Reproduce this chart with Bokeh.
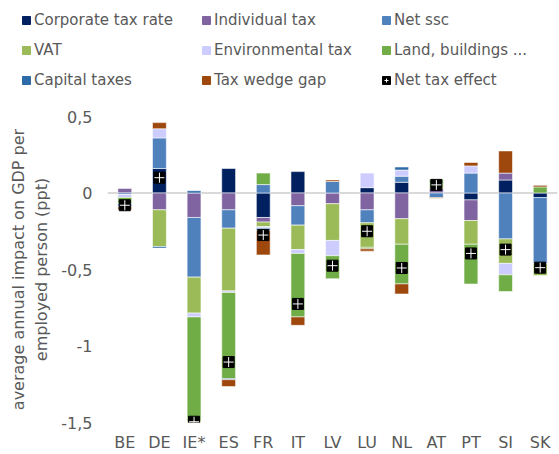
from bokeh.plotting import figure
from bokeh.layouts import column
from bokeh.models import ColumnDataSource, Legend, LegendItem, Span, FixedTicker, Range1d, FactorRange
from bokeh.embed import file_html
from bokeh.resources import INLINE

countries = ["BE", "DE", "IE*", "ES", "FR", "IT", "LV", "LU", "NL", "AT", "PT", "SI", "SK"]

corporate = [0, 0.16, 0, 0.16, -0.16, 0.14, 0, 0.035, 0.07, 0, -0.045, 0.085, -0.03]
individual = [0.03, -0.11, -0.16, -0.11, -0.03, -0.083, -0.07, -0.11, -0.168, 0.03, -0.135, 0.045, 0]
net_ssc = [-0.01, 0.20, -0.39, -0.12, 0.055, -0.127, 0.075, -0.085, 0.04, -0.03, 0.13, -0.30, -0.43]
vat = [0, -0.24, -0.235, -0.41, -0.03, -0.16, -0.24, -0.16, -0.167, 0.03, -0.155, -0.16, -0.08]
environmental = [-0.02, 0.06, -0.025, -0.01, -0.01, -0.025, -0.10, 0.095, 0.04, 0, 0.047, -0.075, 0]
land = [-0.04, 0, -0.685, -0.563, 0.075, -0.415, -0.15, -0.01, -0.259, 0.03, -0.26, -0.109, 0.04]
capital = [-0.02, -0.01, 0.015, -0.007, -0.015, 0, 0, 0, 0.02, 0, 0, 0, 0]
wedge_gap = [-0.02, 0.04, -0.015, -0.045, -0.16, -0.055, 0.01, -0.015, -0.066, -0.005, 0.023, 0.145, 0.01]
net_effect = [-0.08, 0.10, -1.495, -1.105, -0.275, -0.725, -0.475, -0.25, -0.49, 0.053, -0.395, -0.37, -0.488]

series_names = ["Corporate tax rate", "Individual tax", "Net ssc", "VAT", "Environmental tax",
                "Land, buildings ...", "Capital taxes", "Tax wedge gap"]
series_values = [corporate, individual, net_ssc, vat, environmental, land, capital, wedge_gap]
series_colors = ["#002060", "#8064A2", "#4F81BD", "#9BBB59", "#CCCCFF", "#70AD47", "#2C6AA8", "#9E480E"]
net_name = "Net tax effect"

y_ticks = [-1.5, -1, -0.5, 0, 0.5]
y_tick_labels = ["-1,5", "-1", "-0,5", "0", "0,5"]
y_title = "average annual impact on GDP per\nemployed person (ppt)"

W = 559
LEG_H = 104
MAIN_H = 350

# ---------------- main chart ----------------
p = figure(x_range=FactorRange(factors=countries, range_padding=0),
           y_range=Range1d(y_ticks[0], y_ticks[-1]),
           width=W, height=MAIN_H, output_backend="svg", toolbar_location=None,
           min_border_left=107, min_border_right=2, min_border_top=12, min_border_bottom=28)
p.frame_align = False

p.add_layout(Span(location=0, dimension="width", line_color="#D9D9D9", line_width=2, level="underlay"))

# ---------------- legend strip ----------------
lg = figure(width=W, height=LEG_H, output_backend="svg", toolbar_location=None,
            x_range=FactorRange(factors=countries), y_range=Range1d(10, 11),
            x_axis_type=None, y_axis_type=None, min_border=0)
lg.frame_align = False
lg.grid.visible = False
lg.outline_line_color = None

n = len(countries)
pos_base = [0.0] * n
neg_base = [0.0] * n
items = []
for name, vals, col in zip(series_names, series_values, series_colors):
    xs, bots, tops = [], [], []
    for i, v in enumerate(vals):
        if v == 0:
            continue
        if v > 0:
            b, t = pos_base[i], pos_base[i] + v
            pos_base[i] = t
        else:
            t, b = neg_base[i], neg_base[i] + v
            neg_base[i] = b
        xs.append(countries[i]); bots.append(b); tops.append(t)
    src = ColumnDataSource(dict(x=xs, bottom=bots, top=tops))
    p.vbar(x="x", bottom="bottom", top="top", width=0.4, source=src, fill_color=col,
           line_color="white", line_width=0.8, line_alpha=0.7)
    # swatch renderer for the legend strip (its bars fall outside that strip's view)
    r = lg.vbar(x="x", bottom="bottom", top="top", width=0.4, source=src, fill_color=col, line_color=col)
    items.append(LegendItem(label=name, renderers=[r]))

nsrc = ColumnDataSource(dict(x=countries, y=net_effect))
p.scatter(x="x", y="y", source=nsrc, marker="square", size=11, fill_color="black", line_color="black")
p.scatter(x="x", y="y", source=nsrc, marker="cross", size=10, line_color="white", line_width=1)
sq = lg.vbar(x="x", top="y", width=0.4, source=nsrc, fill_color="black", line_color="black")
cr = lg.scatter(x="x", y="y", source=nsrc, marker="cross", size=9, line_color="white", line_width=1)
items.append(LegendItem(label=net_name, renderers=[sq, cr]))

legend = Legend(items=items, ncols=3, orientation="horizontal", location=(21, 14),
                label_text_font="DejaVu Sans", label_text_font_size="15px", label_text_color="#595959",
                glyph_width=10, glyph_height=10, label_standoff=3, label_height=20, label_width=157,
                spacing=10, padding=0, margin=0, border_line_color=None, background_fill_alpha=0)
lg.add_layout(legend, "center")

p.xgrid.visible = False
p.ygrid.visible = False
p.outline_line_color = None

for ax in (p.xaxis, p.yaxis):
    ax.axis_line_color = None
    ax.major_tick_line_color = None
    ax.minor_tick_line_color = None
    ax.major_tick_out = 0
    ax.major_tick_in = 0
    ax.minor_tick_out = 0
    ax.major_label_text_font = "DejaVu Sans"
    ax.major_label_text_font_size = "16px"
    ax.major_label_text_color = "#595959"

p.xaxis.major_label_standoff = 10
p.yaxis.major_label_standoff = 15
p.yaxis.ticker = FixedTicker(ticks=y_ticks)
p.yaxis.major_label_overrides = {t: l for t, l in zip(y_ticks, y_tick_labels)}
p.yaxis.axis_label = y_title
p.yaxis.axis_label_text_font = "DejaVu Sans"
p.yaxis.axis_label_text_font_size = "16px"
p.yaxis.axis_label_text_font_style = "normal"
p.yaxis.axis_label_text_color = "#595959"
p.yaxis.axis_label_standoff = 7

open("out.html", "w").write(file_html(column(lg, p), INLINE))
